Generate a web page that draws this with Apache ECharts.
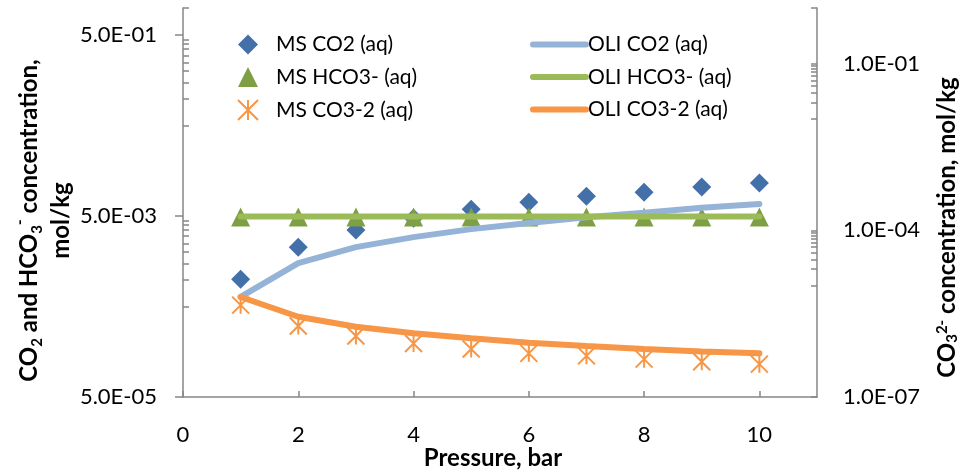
<!DOCTYPE html>
<html lang="en">
<head>
	<meta charset="UTF-8">
	<title>Carbonate species vs pressure</title>
	<script src="https://cdn.jsdelivr.net/npm/echarts@6/dist/echarts.min.js"></script>
	<style>
		html, body { margin: 0; padding: 0; background: #fff; }
		#main { width: 971px; height: 472px; }
	</style>
</head>
<body>
	<div id="main"></div>

	<script>
		// pressure, bar
		var pressure = [1, 2, 3, 4, 5, 6, 7, 8, 9, 10];
		// measured (mol/kg)
		var msCO2 = [1.0e-3, 2.27e-3, 3.5e-3, 4.75e-3, 5.97e-3, 7.1e-3, 8.3e-3, 9.2e-3, 1.05e-2, 1.16e-2];
		var msHCO3 = [4.9e-3, 4.9e-3, 4.9e-3, 4.9e-3, 4.9e-3, 4.9e-3, 4.9e-3, 4.9e-3, 4.9e-3, 4.9e-3];
		var msCO3 = [4.5e-6, 1.89e-6, 1.25e-6, 9.2e-7, 7.3e-7, 6.1e-7, 5.5e-7, 4.8e-7, 4.3e-7, 3.9e-7];
		// OLI model (mol/kg)
		var oliCO2 = [6.4e-4, 1.51e-3, 2.27e-3, 2.93e-3, 3.59e-3, 4.19e-3, 4.85e-3, 5.45e-3, 6.2e-3, 6.8e-3];
		var oliHCO3 = [4.95e-3, 4.95e-3, 4.95e-3, 4.95e-3, 4.95e-3, 4.95e-3, 4.95e-3, 4.95e-3, 4.95e-3, 4.95e-3];
		var oliCO3 = [6.3e-6, 2.78e-6, 1.84e-6, 1.40e-6, 1.14e-6, 9.5e-7, 8.3e-7, 7.3e-7, 6.6e-7, 6.1e-7];

		// tick labels
		var xTicks = [0, 2, 4, 6, 8, 10];
		var leftTicks = [5e-5, 5e-3, 5e-1];
		var rightTicks = [1e-7, 1e-4, 1e-1];

		// excel-like minor ticks (multiples inside each major step)
		var leftMinor = [1];
		var rightMinor = [1];
		for (var k = 1; k <= 9; k++) {
			leftMinor.push(5e-4 * k, 5e-2 * k);
			rightMinor.push(1e-5 * k, 1e-2 * k);
		}

		function pairs(ys) {
			return pressure.map(function (p, i) { return [p, ys[i]]; });
		}
		function sci(v) {
			var s = Number(v).toExponential(1).split('e');
			var n = parseInt(s[1], 10);
			return s[0] + 'E' + (n < 0 ? '-' : '+') + (Math.abs(n) < 10 ? '0' : '') + Math.abs(n);
		}

		var FONT = 'Lato';
		var AXIS = '#868686';
		// the blank "gap" token pushes the centred titles a bit lower, like Excel
		var titleRich = {
			b: { fontFamily: FONT, fontWeight: 'bold', fontSize: 24, color: '#000' },
			sub: { fontFamily: FONT, fontWeight: 'bold', fontSize: 15, color: '#000', verticalAlign: 'bottom', padding: [8, 0, 0, 0] },
			sup: { fontFamily: FONT, fontWeight: 'bold', fontSize: 15, color: '#000', verticalAlign: 'top', padding: [0, 0, 10, 0] },
			gap: { fontSize: 24, width: 36 },
			gapR: { fontSize: 24, width: 50 }
		};
		var legendText = { fontFamily: FONT, fontSize: 21, color: '#000', lineHeight: 20 };

		var chart = echarts.init(document.getElementById('main'));
		var option = {
			animation: false,
			grid: { left: 183, right: 154, top: 8, bottom: 75, containLabel: false, outerBoundsMode: 'none' },
			legend: [
				{
					data: ['MS CO2 (aq)', 'MS HCO3- (aq)', 'MS CO3-2 (aq)'],
					orient: 'vertical', left: 237, top: 34, padding: 0,
					itemWidth: 20, itemHeight: 20, itemGap: 11.5,
					textStyle: Object.assign({ padding: [0, 0, 0, 13] }, legendText)
				},
				{
					data: ['OLI CO2 (aq)', 'OLI HCO3- (aq)', 'OLI CO3-2 (aq)'],
					orient: 'vertical', left: 530, top: 34, padding: 0,
					itemWidth: 53, itemHeight: 20, itemGap: 11.5,
					itemStyle: { color: 'transparent', borderColor: 'transparent', borderWidth: 0 },
					lineStyle: { width: 6, cap: 'round' },
					textStyle: Object.assign({ padding: [0, 0, 0, -3] }, legendText)
				}
			],
			xAxis: {
				type: 'value', min: 0, max: 11,
				name: 'Pressure, bar', nameLocation: 'middle', nameGap: 49, nameMoveOverlap: false,
				nameTextStyle: { fontFamily: FONT, fontWeight: 'bold', fontSize: 24, color: '#000', padding: [0, 14, 0, 0] },
				axisLine: { lineStyle: { color: AXIS, width: 1.5 } },
				axisTick: { inside: true, length: 6, customValues: xTicks, lineStyle: { color: AXIS, width: 1.5 } },
				axisLabel: { customValues: xTicks, margin: 27, fontFamily: FONT, fontSize: 22, color: '#000' },
				splitLine: { show: false }
			},
			yAxis: [
				{
					type: 'log', logBase: 10, min: 5e-5, max: 1, position: 'left',
					name: '{b|CO}{sub|2}{b| and HCO}{sub|3}{sup|-}{b| concentration,}{gap|\u00a0}\n{b|mol/kg}{gap|\u00a0}',
					nameLocation: 'middle', nameRotate: 90, nameGap: 106, nameMoveOverlap: false,
					nameTextStyle: { align: 'center', lineHeight: 32, rich: titleRich },
					axisLine: { show: true, lineStyle: { color: AXIS, width: 1.5 } },
					axisTick: { inside: false, length: 8, customValues: leftTicks, lineStyle: { color: AXIS, width: 1.5 } },
					axisLabel: { customValues: leftTicks, formatter: sci, margin: 26, fontFamily: FONT, fontSize: 22, color: '#000' },
					splitLine: { show: false }
				},
				{
					type: 'log', logBase: 10, min: 1e-7, max: 1, position: 'right',
					name: '{b|CO}{sub|3}{sup|2-}{b| concentration, mol/kg}{gapR|\u00a0}',
					nameLocation: 'middle', nameRotate: 90, nameGap: 118, nameMoveOverlap: false,
					nameTextStyle: { align: 'center', rich: titleRich },
					axisLine: { show: true, lineStyle: { color: AXIS, width: 1.5 } },
					axisTick: { inside: true, length: 6, customValues: rightTicks, lineStyle: { color: AXIS, width: 1.5 } },
					axisLabel: { customValues: rightTicks, formatter: sci, margin: 26, fontFamily: FONT, fontSize: 22, color: '#000' },
					splitLine: { show: false }
				},
				{
					type: 'log', logBase: 10, min: 5e-5, max: 1, position: 'left',
					axisLine: { show: false },
					axisTick: { inside: true, length: 6, customValues: leftMinor, lineStyle: { color: AXIS, width: 1.5 } },
					axisLabel: { show: false },
					splitLine: { show: false }
				},
				{
					type: 'log', logBase: 10, min: 1e-7, max: 1, position: 'right',
					axisLine: { show: false },
					axisTick: { inside: true, length: 6, customValues: rightMinor, lineStyle: { color: AXIS, width: 1.5 } },
					axisLabel: { show: false },
					splitLine: { show: false }
				}
			],
			series: [
				{
					name: 'MS CO2 (aq)', type: 'scatter', yAxisIndex: 0,
					symbol: 'diamond', symbolSize: 19,
					itemStyle: { color: '#4470AA', opacity: 1 },
					data: pairs(msCO2)
				},
				{
					name: 'OLI CO2 (aq)', type: 'line', yAxisIndex: 0, symbol: 'none',
					lineStyle: { color: '#95B3D7', width: 6, cap: 'round' },
					itemStyle: { color: '#95B3D7' },
					data: pairs(oliCO2)
				},
				{
					name: 'OLI HCO3- (aq)', type: 'line', yAxisIndex: 0, symbol: 'none',
					lineStyle: { color: '#9BBB59', width: 6, cap: 'round' },
					itemStyle: { color: '#9BBB59' },
					data: pairs(oliHCO3)
				},
				{
					name: 'OLI CO3-2 (aq)', type: 'line', yAxisIndex: 1, symbol: 'none',
					lineStyle: { color: '#F79646', width: 6, cap: 'round' },
					itemStyle: { color: '#F79646' },
					data: pairs(oliCO3)
				},
				{
					name: 'MS HCO3- (aq)', type: 'scatter', yAxisIndex: 0,
					symbol: 'triangle', symbolSize: 19,
					itemStyle: { color: '#7F9F45', opacity: 1 },
					data: pairs(msHCO3)
				},
				{
					name: 'MS CO3-2 (aq)', type: 'scatter', yAxisIndex: 1,
					symbol: 'path://M0,0L10,10M10,0L0,10M5,0L5,10', symbolSize: 17,
					itemStyle: { color: 'transparent', borderColor: '#F79646', borderWidth: 2, opacity: 1 },
					data: pairs(msCO3)
				}
			]
		};
		chart.setOption(option);
	</script>
</body>
</html>
